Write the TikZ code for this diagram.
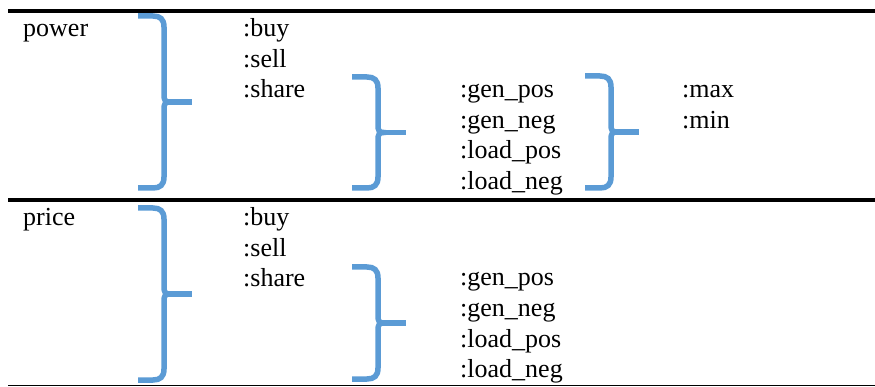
\documentclass[tikz,border=0pt]{standalone}
\usepackage{fontspec}
\setmainfont{Liberation Serif}
\usepackage{xcolor}
\usepackage{tikz}
\usetikzlibrary{positioning}

\definecolor{braceblue}{RGB}{91,155,213}

%% right brace: left end x, top y, bottom y
\newcommand{\drawbrace}[3]{%
  \draw[brc] (#1,#2) -- ({#1+15},#2) .. controls ({#1+22},#2) and ({#1+26},{#2+3}) .. ({#1+26},{#2+11})
    -- ({#1+26},{(#2+#3)/2-7}) .. controls ({#1+26},{(#2+#3)/2-2}) and ({#1+27},{(#2+#3)/2}) .. ({#1+32},{(#2+#3)/2})
    .. controls ({#1+27},{(#2+#3)/2}) and ({#1+26},{(#2+#3)/2+2}) .. ({#1+26},{(#2+#3)/2+7})
    -- ({#1+26},{#3-11}) .. controls ({#1+26},{#3-3}) and ({#1+22},#3) .. ({#1+15},#3) -- (#1,#3);
  \draw[brc] ({#1+30},{(#2+#3)/2}) -- ({#1+54},{(#2+#3)/2});
}

\begin{document}
\begin{tikzpicture}[
  x=1pt,y=-1pt,
  every node/.style={font=\fontsize{26}{30.5}\selectfont,inner sep=0pt,anchor=base west},
  brc/.style={draw=braceblue,line width=5.5pt},
  thickrule/.style={line width=3.5pt},
  thinrule/.style={line width=0.9pt}
]
\useasboundingbox (0,0) rectangle (875,387);

%% Rules
\coordinate (r1a) at (8,11);   \coordinate (r1b) at (875,11);
\coordinate (r2a) at (8,200);  \coordinate (r2b) at (875,200);
\coordinate (r3a) at (8,385);  \coordinate (r3b) at (875,385);
\draw[thickrule] (r1a) -- (r1b);
\draw[thickrule] (r2a) -- (r2b);
\draw[thinrule]  (r3a) -- (r3b);

%% Row 1: power
\node (pw) at (23,37) {power};
\foreach \t [count=\i] in {buy,sell,share}
  \node (pw-a\i) at (243,{37+30.5*(\i-1)}) {:\t};
\foreach \t [count=\i] in {gen\_pos,gen\_neg,load\_pos,load\_neg}
  \node (pw-b\i) at (460,{98+30.5*(\i-1)}) {:\t};
\node (pw-max) at (682,98)  {:max};
\node (pw-min) at (682,128.5) {:min};

\drawbrace{138}{16}{188}
\drawbrace{352}{77}{188}
\drawbrace{585}{76}{188}

%% Row 2: price
\node (pr) at (23,226) {price};
\foreach \t [count=\i] in {buy,sell,share}
  \node (pr-a\i) at (243,{226+30.5*(\i-1)}) {:\t};
\foreach \t [count=\i] in {gen\_pos,gen\_neg,load\_pos,load\_neg}
  \node (pr-b\i) at (460,{286+30.5*(\i-1)}) {:\t};

\drawbrace{138}{208}{380}
\drawbrace{352}{267}{379}

\end{tikzpicture}
\end{document}
